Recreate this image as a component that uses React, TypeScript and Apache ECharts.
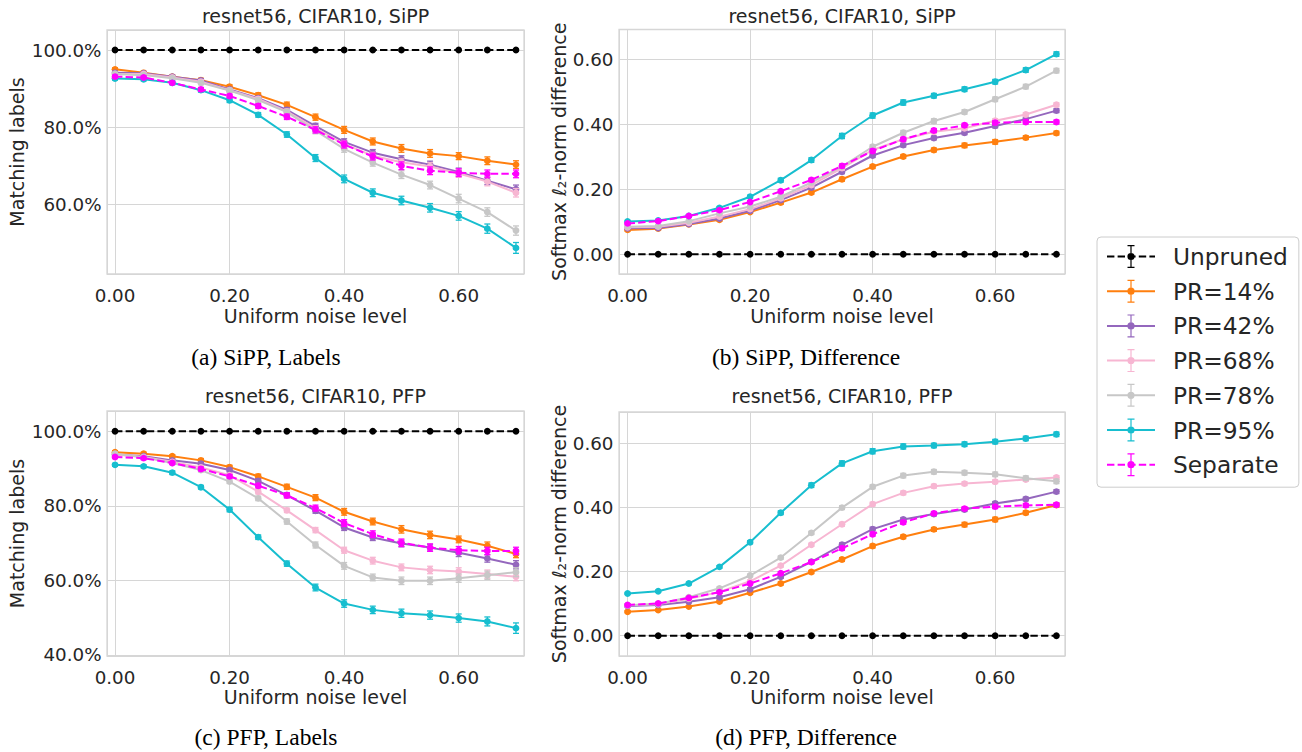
import React, { useEffect, useRef } from "react";
import * as echarts from "echarts";

// ---------------- DATA ----------------
const NOISE = [0, 0.05, 0.1, 0.15, 0.2, 0.25, 0.3, 0.35, 0.4, 0.45, 0.5, 0.55, 0.6, 0.65, 0.7];
const SERIES_NAMES = ["Unpruned", "PR=14%", "PR=42%", "PR=68%", "PR=78%", "PR=95%", "Separate"];
const SERIES_COLORS = ["#000000", "#ff7f0e", "#9467bd", "#f7b6d2", "#c7c7c7", "#17becf", "#ff00ff"];
const SERIES_DASHED = [true, false, false, false, false, false, true];

const PANEL_TITLES = ["resnet56, CIFAR10, SiPP", "resnet56, CIFAR10, SiPP", "resnet56, CIFAR10, PFP", "resnet56, CIFAR10, PFP"];
const PANEL_CAPTIONS = ["(a) SiPP, Labels", "(b) SiPP, Difference", "(c) PFP, Labels", "(d) PFP, Difference"];
const X_LABEL = "Uniform noise level";
const Y_LABELS = ["Matching labels", "Softmax \u2113\u2082-norm difference"];

// (a) SiPP, matching labels (%)
const A_UNPRUNED = [100, 100, 100, 100, 100, 100, 100, 100, 100, 100, 100, 100, 100, 100, 100];
const A_PR14 = [95.0, 94.1, 93.1, 92.2, 90.5, 88.3, 85.8, 82.6, 79.3, 76.3, 74.5, 73.2, 72.5, 71.3, 70.3];
const A_PR42 = [94.1, 94.0, 93.1, 92.1, 89.8, 87.5, 84.5, 80.3, 76.2, 73.4, 71.7, 70.3, 68.4, 66.1, 63.9];
const A_PR68 = [93.8, 93.8, 92.9, 91.8, 89.6, 87.3, 84.1, 79.7, 75.6, 72.6, 70.9, 69.8, 68.0, 65.9, 63.0];
const A_PR78 = [93.8, 93.5, 92.7, 91.5, 89.5, 87.0, 83.9, 79.1, 74.4, 70.8, 67.7, 65.0, 61.5, 58.0, 53.2];
const A_PR95 = [92.6, 92.4, 91.5, 89.6, 87.0, 83.2, 78.1, 72.0, 66.6, 63.0, 61.0, 59.1, 57.0, 53.7, 48.7];
const A_SEP = [93.1, 92.9, 91.5, 89.8, 88.1, 85.5, 82.7, 79.3, 75.5, 72.4, 70.0, 68.7, 68.2, 67.9, 67.9];

// (b) SiPP, softmax l2-norm difference
const B_UNPRUNED = [0, 0, 0, 0, 0, 0, 0, 0, 0, 0, 0, 0, 0, 0, 0];
const B_PR14 = [0.075, 0.079, 0.092, 0.106, 0.130, 0.159, 0.190, 0.231, 0.270, 0.301, 0.321, 0.335, 0.346, 0.359, 0.373];
const B_PR42 = [0.080, 0.081, 0.093, 0.110, 0.134, 0.167, 0.205, 0.254, 0.304, 0.336, 0.358, 0.374, 0.395, 0.416, 0.442];
const B_PR68 = [0.083, 0.085, 0.097, 0.116, 0.139, 0.172, 0.213, 0.265, 0.321, 0.354, 0.377, 0.388, 0.411, 0.430, 0.460];
const B_PR78 = [0.085, 0.087, 0.102, 0.126, 0.147, 0.177, 0.221, 0.270, 0.331, 0.374, 0.410, 0.438, 0.477, 0.516, 0.565];
const B_PR95 = [0.101, 0.104, 0.118, 0.143, 0.177, 0.228, 0.290, 0.364, 0.427, 0.467, 0.488, 0.508, 0.531, 0.567, 0.616];
const B_SEP = [0.095, 0.102, 0.118, 0.136, 0.161, 0.194, 0.229, 0.272, 0.318, 0.354, 0.381, 0.397, 0.405, 0.407, 0.407];

// (c) PFP, matching labels (%)
const C_UNPRUNED = [100, 100, 100, 100, 100, 100, 100, 100, 100, 100, 100, 100, 100, 100, 100];
const C_PR14 = [94.4, 94.0, 93.3, 92.2, 90.4, 87.9, 85.1, 82.2, 78.4, 75.8, 73.7, 72.2, 71.0, 69.3, 67.1];
const C_PR42 = [93.8, 93.3, 92.2, 91.3, 89.6, 86.7, 82.9, 78.7, 74.2, 71.5, 69.9, 68.8, 67.4, 65.9, 64.2];
const C_PR68 = [93.8, 93.1, 91.8, 90.3, 88.2, 83.8, 78.8, 73.5, 68.1, 65.3, 63.5, 62.8, 62.4, 61.7, 61.0];
const C_PR78 = [94.0, 93.0, 91.5, 89.6, 86.5, 82.0, 75.8, 69.5, 63.9, 60.8, 59.9, 59.9, 60.6, 61.4, 62.2];
const C_PR95 = [91.0, 90.6, 88.9, 85.0, 79.0, 71.6, 64.5, 58.1, 53.8, 52.1, 51.2, 50.7, 49.9, 49.0, 47.2];
const C_SEP = [93.1, 92.8, 91.5, 89.9, 87.9, 85.4, 82.8, 79.4, 75.4, 72.4, 70.1, 68.8, 68.1, 67.9, 67.9];

// (d) PFP, softmax l2-norm difference
const D_UNPRUNED = [0, 0, 0, 0, 0, 0, 0, 0, 0, 0, 0, 0, 0, 0, 0];
const D_PR14 = [0.075, 0.080, 0.091, 0.107, 0.134, 0.163, 0.199, 0.238, 0.280, 0.309, 0.332, 0.347, 0.363, 0.384, 0.408];
const D_PR42 = [0.093, 0.096, 0.106, 0.120, 0.145, 0.184, 0.231, 0.284, 0.333, 0.363, 0.380, 0.394, 0.413, 0.427, 0.450];
const D_PR68 = [0.095, 0.099, 0.115, 0.137, 0.170, 0.219, 0.284, 0.348, 0.411, 0.446, 0.467, 0.475, 0.481, 0.488, 0.494];
const D_PR78 = [0.095, 0.099, 0.120, 0.148, 0.188, 0.244, 0.321, 0.400, 0.465, 0.500, 0.512, 0.509, 0.504, 0.492, 0.482];
const D_PR95 = [0.132, 0.139, 0.163, 0.215, 0.292, 0.384, 0.470, 0.538, 0.576, 0.591, 0.594, 0.598, 0.606, 0.616, 0.629];
const D_SEP = [0.096, 0.101, 0.118, 0.136, 0.163, 0.195, 0.230, 0.273, 0.317, 0.354, 0.382, 0.397, 0.403, 0.407, 0.409];

// error bar half-widths (labels panels, %)
const EL_UNPRUNED = [0, 0, 0, 0, 0, 0, 0, 0, 0, 0, 0, 0, 0, 0, 0];
const EL_PR14 = [0.4, 0.4, 0.4, 0.5, 0.5, 0.6, 0.7, 0.8, 0.9, 0.9, 1.0, 1.0, 0.9, 1.0, 1.0];
const EL_PR42 = [0.4, 0.4, 0.4, 0.5, 0.5, 0.6, 0.6, 0.7, 0.8, 0.8, 0.9, 0.9, 1.0, 1.0, 1.1];
const EL_PR68 = [0.4, 0.4, 0.4, 0.5, 0.5, 0.6, 0.6, 0.7, 0.8, 0.9, 0.9, 1.0, 1.0, 1.1, 1.1];
const EL_PR78 = [0.4, 0.4, 0.4, 0.5, 0.5, 0.6, 0.7, 0.8, 0.9, 0.9, 1.0, 1.0, 1.1, 1.1, 1.2];
const EL_PR95 = [0.4, 0.4, 0.5, 0.5, 0.6, 0.6, 0.7, 0.9, 1.0, 1.0, 1.1, 1.1, 1.1, 1.2, 1.4];
const EL_SEP = [0.4, 0.4, 0.4, 0.5, 0.5, 0.6, 0.7, 0.8, 0.9, 0.9, 1.0, 1.0, 1.0, 1.0, 1.0];

// error bar half-widths (difference panels)
const ED_UNPRUNED = [0, 0, 0, 0, 0, 0, 0, 0, 0, 0, 0, 0, 0, 0, 0];
const ED_PR14 = [0.003, 0.003, 0.003, 0.004, 0.004, 0.005, 0.005, 0.006, 0.006, 0.006, 0.006, 0.007, 0.007, 0.006, 0.006];
const ED_PR42 = [0.003, 0.003, 0.003, 0.004, 0.004, 0.005, 0.005, 0.006, 0.006, 0.006, 0.006, 0.006, 0.006, 0.006, 0.006];
const ED_PR68 = [0.003, 0.003, 0.003, 0.004, 0.004, 0.005, 0.005, 0.006, 0.006, 0.006, 0.006, 0.006, 0.006, 0.006, 0.006];
const ED_PR78 = [0.003, 0.003, 0.003, 0.004, 0.004, 0.005, 0.005, 0.006, 0.006, 0.007, 0.007, 0.007, 0.007, 0.007, 0.007];
const ED_PR95 = [0.003, 0.003, 0.004, 0.004, 0.005, 0.006, 0.007, 0.008, 0.008, 0.008, 0.007, 0.007, 0.007, 0.007, 0.007];
const ED_SEP = [0.003, 0.003, 0.003, 0.004, 0.004, 0.005, 0.005, 0.006, 0.006, 0.006, 0.006, 0.006, 0.006, 0.006, 0.006];

const PANEL_VALUES = [
  [A_UNPRUNED, A_PR14, A_PR42, A_PR68, A_PR78, A_PR95, A_SEP],
  [B_UNPRUNED, B_PR14, B_PR42, B_PR68, B_PR78, B_PR95, B_SEP],
  [C_UNPRUNED, C_PR14, C_PR42, C_PR68, C_PR78, C_PR95, C_SEP],
  [D_UNPRUNED, D_PR14, D_PR42, D_PR68, D_PR78, D_PR95, D_SEP],
];
const ERR_LABELS = [EL_UNPRUNED, EL_PR14, EL_PR42, EL_PR68, EL_PR78, EL_PR95, EL_SEP];
const ERR_DIFF = [ED_UNPRUNED, ED_PR14, ED_PR42, ED_PR68, ED_PR78, ED_PR95, ED_SEP];

// ---------------- LAYOUT ----------------
const FONT = "DejaVu Sans";
const TEXT_COLOR = "#262626";
const GRID_COLOR = "#d6d6d6";

const GRIDS = [
  { left: 107, top: 30, width: 417, height: 244 },
  { left: 619, top: 29.5, width: 446, height: 244.5 },
  { left: 107, top: 411, width: 417, height: 245 },
  { left: 619, top: 412, width: 446, height: 244 },
];
const Y_RANGES = [
  [41.94, 105.2],
  [-0.0606, 0.6917],
  [39.73, 105.44],
  [-0.0633, 0.6986],
];
const X_RANGE = [-0.014, 0.714];

function legendIconPath(dashed: boolean): string {
  const rect = (x: number, y: number, w: number, h: number) =>
    `M${x} ${y}h${w}v${h}h${-w}Z`;
  let d = "";
  if (dashed) {
    const segs = [
      [0, 7.4],
      [10.6, 18],
      [21.2, 28.6],
      [31.8, 39.2],
      [42.4, 48],
    ];
    segs.forEach(([a, b]) => (d += rect(a, 11, b - a, 2)));
  } else {
    d += rect(0, 11, 48, 2);
  }
  d += rect(23.4, 0.5, 1.2, 23);
  d += rect(20.5, 0.5, 7, 1.2);
  d += rect(20.5, 22.3, 7, 1.2);
  const r = 3.6;
  d += `M${24 - r} 12A${r} ${r} 0 1 1 ${24 + r} 12A${r} ${r} 0 1 1 ${24 - r} 12Z`;
  return "path://" + d;
}

function buildOption() {
  const isPct = (p: number) => p === 0 || p === 2;

  const grid = GRIDS.map((g) => ({
    ...g,
    show: true,
    borderColor: GRID_COLOR,
    borderWidth: 1.3,
    backgroundColor: "#ffffff",
    containLabel: false,
    outerBoundsMode: "none",
  }));

  const xAxis = GRIDS.map((_, p) => ({
    type: "value",
    gridIndex: p,
    min: X_RANGE[0],
    max: X_RANGE[1],
    splitNumber: 4,
    name: X_LABEL,
    nameLocation: "middle",
    nameGap: p < 2 ? 32.5 : 31.5,
    nameTextStyle: { fontFamily: FONT, fontSize: 19, color: TEXT_COLOR },
    axisLine: { show: false },
    axisTick: { show: false },
    splitLine: { show: true, lineStyle: { color: GRID_COLOR, width: 1 } },
    axisLabel: {
      showMinLabel: false,
      showMaxLabel: false,
      margin: 12.5,
      fontFamily: FONT,
      fontSize: 18.3,
      color: TEXT_COLOR,
      formatter: (v: number) => {
        const k = Math.round(v / 0.2);
        return Math.abs(v - k * 0.2) < 1e-6 ? v.toFixed(2) : "";
      },
    },
  }));

  const yAxis = GRIDS.map((_, p) => ({
    type: "value",
    gridIndex: p,
    min: Y_RANGES[p][0],
    max: Y_RANGES[p][1],
    splitNumber: 4,
    name: isPct(p) ? Y_LABELS[0] : Y_LABELS[1],
    nameLocation: "middle",
    nameRotate: 90,
    nameGap: isPct(p) ? 80.5 : 50.5,
    nameTextStyle: { fontFamily: FONT, fontSize: 19, color: TEXT_COLOR },
    axisLine: { show: false },
    axisTick: { show: false },
    splitLine: { show: true, lineStyle: { color: GRID_COLOR, width: 1 } },
    axisLabel: {
      showMinLabel: false,
      showMaxLabel: false,
      margin: 5.5,
      fontFamily: FONT,
      fontSize: 18.3,
      color: TEXT_COLOR,
      formatter: (v: number) => {
        if (isPct(p)) {
          const k = Math.round(v / 20);
          return Math.abs(v - k * 20) < 1e-6 ? v.toFixed(1) + "%" : "";
        }
        const k = Math.round(v / 0.2);
        return Math.abs(v - k * 0.2) < 1e-6 ? v.toFixed(2) : "";
      },
    },
  }));

  const lineSeries: any[] = [];
  const errSeries: any[] = [];
  PANEL_VALUES.forEach((vals, p) => {
    const errs = isPct(p) ? ERR_LABELS : ERR_DIFF;
    vals.forEach((v, s) => {
      const color = SERIES_COLORS[s];
      lineSeries.push({
        type: "line",
        name: SERIES_NAMES[s],
        xAxisIndex: p,
        yAxisIndex: p,
        data: NOISE.map((x, i) => [x, v[i]]),
        symbol: "circle",
        symbolSize: 6.8,
        showSymbol: true,
        silent: true,
        clip: false,
        z: 3 + s,
        lineStyle: {
          color,
          width: 2,
          type: SERIES_DASHED[s] ? [7.4, 3.2] : "solid",
        },
        itemStyle: { color, borderWidth: 0 },
        emphasis: { disabled: true },
      });
      const e = errs[s];
      if (e.some((x) => x > 0)) {
        errSeries.push({
          type: "custom",
          name: SERIES_NAMES[s],
          xAxisIndex: p,
          yAxisIndex: p,
          silent: true,
          z: 3 + s,
          data: NOISE.map((x, i) => [x, v[i] - e[i], v[i] + e[i]]),
          encode: { x: 0, y: [1, 2] },
          renderItem: (params: any, api: any) => {
            const x = api.value(0);
            const lo = api.coord([x, api.value(1)]);
            const hi = api.coord([x, api.value(2)]);
            const c = 3;
            const style = { stroke: color, lineWidth: 1.3, fill: "none" };
            return {
              type: "group",
              children: [
                { type: "line", shape: { x1: lo[0], y1: lo[1], x2: hi[0], y2: hi[1] }, style },
                { type: "line", shape: { x1: lo[0] - c, y1: lo[1], x2: lo[0] + c, y2: lo[1] }, style },
                { type: "line", shape: { x1: hi[0] - c, y1: hi[1], x2: hi[0] + c, y2: hi[1] }, style },
              ],
            };
          },
        });
      }
    });
  });

  const titleCenters = [
    [315.5, 16],
    [842, 16],
    [315.5, 396],
    [842, 396],
  ];
  const captionCenters = [
    [266, 357],
    [806, 357],
    [266, 737],
    [806, 737],
  ];

  const graphic: any[] = [];
  PANEL_TITLES.forEach((t, i) => {
    graphic.push({
      type: "text",
      x: titleCenters[i][0],
      y: titleCenters[i][1],
      silent: true,
      style: {
        text: t,
        fontFamily: FONT,
        fontSize: 19,
        fill: TEXT_COLOR,
        align: "center",
        verticalAlign: "middle",
      },
    });
  });
  PANEL_CAPTIONS.forEach((t, i) => {
    graphic.push({
      type: "text",
      x: captionCenters[i][0],
      y: captionCenters[i][1],
      silent: true,
      style: {
        text: t,
        fontFamily: "Liberation Serif",
        fontSize: 23.5,
        fill: "#000000",
        align: "center",
        verticalAlign: "middle",
      },
    });
  });

  return {
    animation: false,
    backgroundColor: "#ffffff",
    grid,
    xAxis,
    yAxis,
    legend: {
      orient: "vertical",
      left: 1097,
      top: 237,
      padding: [8, 11, 11, 10],
      itemWidth: 48,
      itemHeight: 24,
      itemGap: 11.7,
      backgroundColor: "#ffffff",
      borderColor: "#cccccc",
      borderWidth: 1,
      borderRadius: 4,
      selectedMode: false,
      itemStyle: { borderWidth: 0 },
      textStyle: {
        fontFamily: FONT,
        fontSize: 23.3,
        color: TEXT_COLOR,
        padding: [0, 0, 0, 13],
      },
      data: SERIES_NAMES.map((n, s) => ({
        name: n,
        icon: legendIconPath(SERIES_DASHED[s]),
        itemStyle: { color: SERIES_COLORS[s], borderWidth: 0 },
      })),
    },
    graphic,
    series: [...lineSeries, ...errSeries],
  };
}

export default function App() {
  const ref = useRef<HTMLDivElement>(null);
  useEffect(() => {
    if (!ref.current) return;
    const chart = echarts.init(ref.current, undefined, { renderer: "svg" });
    chart.setOption(buildOption() as any);
    return () => chart.dispose();
  }, []);
  return (
    <div
      ref={ref}
      style={{ position: "absolute", left: 0, top: 0, width: 1302, height: 752, background: "#fff" }}
    />
  );
}
